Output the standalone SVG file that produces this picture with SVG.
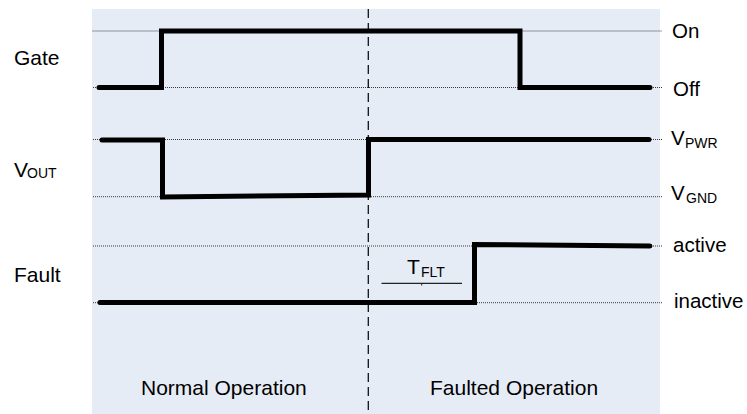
<svg xmlns="http://www.w3.org/2000/svg" width="747" height="414" viewBox="0 0 747 414">
  <style>
    .lbl { font-family: "Liberation Sans", Arial, sans-serif; font-size: 21px; fill: #000; }
    .rl { font-family: "Liberation Sans", Arial, sans-serif; font-size: 20.5px; fill: #000; }
    .sub { font-size: 14px; }
    .grid { stroke: #3a3a3a; stroke-width: 1; stroke-dasharray: 1 1; fill: none; }
    .sig { stroke: #000; stroke-width: 5; fill: none; stroke-linecap: round; stroke-linejoin: miter; }
    .divider { stroke: #111; stroke-width: 1.3; stroke-dasharray: 9 5; fill: none; }
  </style>
  <rect id="background" x="92" y="9" width="568" height="405" fill="#E6ECF6"/>
  <g id="connectors">
    <line class="grid" x1="92.5" y1="31" x2="662" y2="31"/>
    <line class="grid" x1="93" y1="87.5" x2="662" y2="87.5"/>
    <line class="grid" x1="93" y1="139.5" x2="662" y2="139.5"/>
    <line class="grid" x1="93" y1="196.7" x2="662" y2="196.7"/>
    <line class="grid" x1="93" y1="246" x2="662" y2="246"/>
    <line class="grid" x1="93" y1="302.7" x2="662" y2="302.7"/>
    <line class="divider" x1="368.3" y1="9" x2="368.3" y2="414"/>
  </g>
  <g id="gate">
    <text class="lbl" x="14" y="65">Gate</text>
    <path class="sig" d="M99,87.5 L161.5,87.5 L161.5,31 L520,31 L520,87.5 L650,87.5"/>
    <text class="rl" x="672" y="37.5">On</text>
    <text class="rl" x="673" y="96">Off</text>
  </g>
  <g id="vout">
    <text class="lbl" x="14" y="177">V<tspan class="sub" x="27" y="178">OUT</tspan></text>
    <path class="sig" d="M102,140 L162.5,140 L162.5,197 L368.5,195 L368.5,139.5 L649,139.5"/>
    <text class="rl" x="671" y="145">V<tspan class="sub" x="685" y="148">PWR</tspan></text>
    <text class="rl" x="671" y="200">V<tspan class="sub" x="686" y="203">GND</tspan></text>
  </g>
  <g id="fault">
    <text class="lbl" x="14" y="282">Fault</text>
    <path class="sig" d="M100,302.5 L474.5,302.5 L474.5,244.5 L650,246"/>
    <text class="rl" x="673" y="252">active</text>
    <text class="rl" x="674" y="308">inactive</text>
  </g>
  <g id="tflt">
    <text class="lbl" x="407" y="274" fill="#222">T<tspan class="sub" x="421" y="277">FLT</tspan></text>
    <line x1="381.5" y1="283.3" x2="462" y2="283.3" stroke="#222" stroke-width="1.3"/>
    <line x1="421.7" y1="283.3" x2="421.7" y2="285.5" stroke="#222" stroke-width="1"/>
  </g>
  <g id="phases">
    <text class="lbl" x="141" y="395">Normal Operation</text>
    <text class="lbl" x="430" y="395">Faulted Operation</text>
  </g>
</svg>
